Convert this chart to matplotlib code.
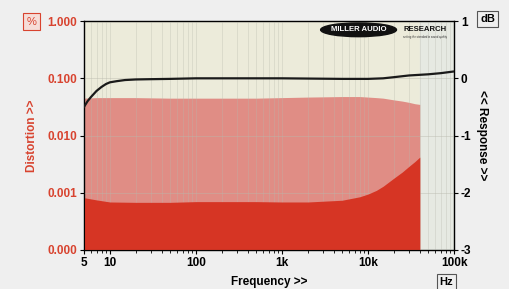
import numpy as np
import matplotlib.pyplot as plt
from matplotlib.patches import Ellipse

plt.rcParams['font.family'] = ['Liberation Sans', 'DejaVu Sans']

# distortion bands (%), 5 Hz .. 40 kHz
dist_freq = [5, 7, 10, 20, 50, 100, 200, 500, 1000, 2000, 5000, 8000, 10000, 12500, 15000,
             20000, 25000, 30000, 35000, 40000]
dist_upper = [0.045, 0.046, 0.046, 0.046, 0.045, 0.045, 0.045, 0.045, 0.046, 0.047, 0.048, 0.048,
              0.047, 0.046, 0.045, 0.042, 0.040, 0.038, 0.036, 0.035]
dist_lower = [0.00082, 0.00075, 0.00069, 0.00068, 0.00068, 0.0007, 0.0007, 0.0007, 0.00069, 0.00069,
              0.00074, 0.00085, 0.00095, 0.0011, 0.0013, 0.0018, 0.0023, 0.0029, 0.0035, 0.0042]

# frequency response (dB)
resp_freq = [5, 5.5, 6, 7, 8, 9, 10, 12, 15, 20, 30, 50, 100, 1000, 5000, 10000, 15000, 20000,
             30000, 50000, 70000, 100000]
resp_db = [-0.50, -0.40, -0.33, -0.22, -0.15, -0.10, -0.07, -0.05, -0.03, -0.02, -0.015, -0.01,
           0.0, 0.0, -0.01, -0.01, 0.0, 0.02, 0.05, 0.07, 0.09, 0.12]

left_ticks = [1e-4, 1e-3, 1e-2, 1e-1, 1]
left_labels = ['0.000', '0.001', '0.010', '0.100', '1.000']
x_ticks = [5, 10, 100, 1000, 10000, 100000]
x_labels = ['5', '10', '100', '1k', '10k', '100k']
right_ticks = [-3, -2, -1, 0, 1]

red = '#d8432f'
fig = plt.figure(figsize=(5.09, 2.89), dpi=100, facecolor='#efefef')
ax = fig.add_axes([0.165, 0.135, 0.727, 0.792])
ax.set_facecolor('#ecebda')
ax.axvspan(40000, 100000, color='#e6e9e2', zorder=0)

ax.set_xscale('log')
ax.set_yscale('log')
ax.set_xlim(5, 100000)
ax.set_ylim(1e-4, 1)

ax.fill_between(dist_freq, 1e-4, dist_upper, color='#e08d85', lw=0, zorder=2)
ax.fill_between(dist_freq, 1e-4, dist_lower, color='#d63524', lw=0, zorder=3)

ax.grid(True, which='both', axis='x', color='#b8b8ac', lw=0.5, alpha=0.45, zorder=4)
ax.grid(True, which='major', axis='y', color='#b8b8ac', lw=0.5, alpha=0.6, zorder=4)
ax.set_axisbelow(False)

ax.set_xticks(x_ticks)
ax.set_xticklabels(x_labels, fontsize=8.5, fontweight='bold')
ax.set_yticks(left_ticks)
ax.set_yticklabels(left_labels, fontsize=8.5, fontweight='bold', color=red)
ax.yaxis.set_minor_locator(plt.NullLocator())
ax.tick_params(axis='both', which='major', length=3, pad=2)
ax.tick_params(axis='x', which='minor', length=2)
for s in ax.spines.values():
    s.set_color('#333333')
    s.set_linewidth(1.0)

ax2 = ax.twinx()
ax2.set_ylim(-3, 1)
ax2.plot(resp_freq, resp_db, color='#1a1a1a', lw=1.6, zorder=5)
ax2.set_yticks(right_ticks)
ax2.set_yticklabels([str(t) for t in right_ticks], fontsize=8.5, fontweight='bold')
ax2.tick_params(axis='y', length=3, pad=2)

ax.set_xlabel('Frequency >>', fontsize=8.5, fontweight='bold', labelpad=5)
ax.set_ylabel('Distortion >>', fontsize=8.5, fontweight='bold', color=red, labelpad=7)
ax2.set_ylabel('<< Response >>', fontsize=8.5, fontweight='bold', rotation=270, labelpad=12)

box = dict(boxstyle='square,pad=0.25', fc='#efefef', ec='#555555', lw=0.8)
fig.text(0.062, 0.925, '%', fontsize=8, color=red, ha='center', va='center',
         bbox=dict(boxstyle='square,pad=0.3', fc='#f6ddd8', ec=red, lw=0.8))
fig.text(0.958, 0.935, 'dB', fontsize=8, fontweight='bold', ha='center', va='center', bbox=box)
fig.text(0.877, 0.025, 'Hz', fontsize=8, fontweight='bold', ha='center', va='center', bbox=box)

# logo
ax.add_patch(Ellipse((0.742, 0.962), 0.205, 0.06, transform=ax.transAxes,
                     color='#111111', zorder=6))
ax.text(0.742, 0.962, 'MILLER AUDIO', transform=ax.transAxes, fontsize=5.6,
        fontweight='bold', color='white', ha='center', va='center', zorder=7)
ax.text(0.922, 0.962, 'RESEARCH', transform=ax.transAxes, fontsize=5.6,
        fontweight='bold', color='#111111', ha='center', va='center', zorder=7)
ax.text(0.922, 0.932, 'setting the standard in sound quality', transform=ax.transAxes,
        fontsize=2, color='#333333', ha='center', va='center', zorder=7)

fig.savefig('out.png', dpi=100, facecolor=fig.get_facecolor())
